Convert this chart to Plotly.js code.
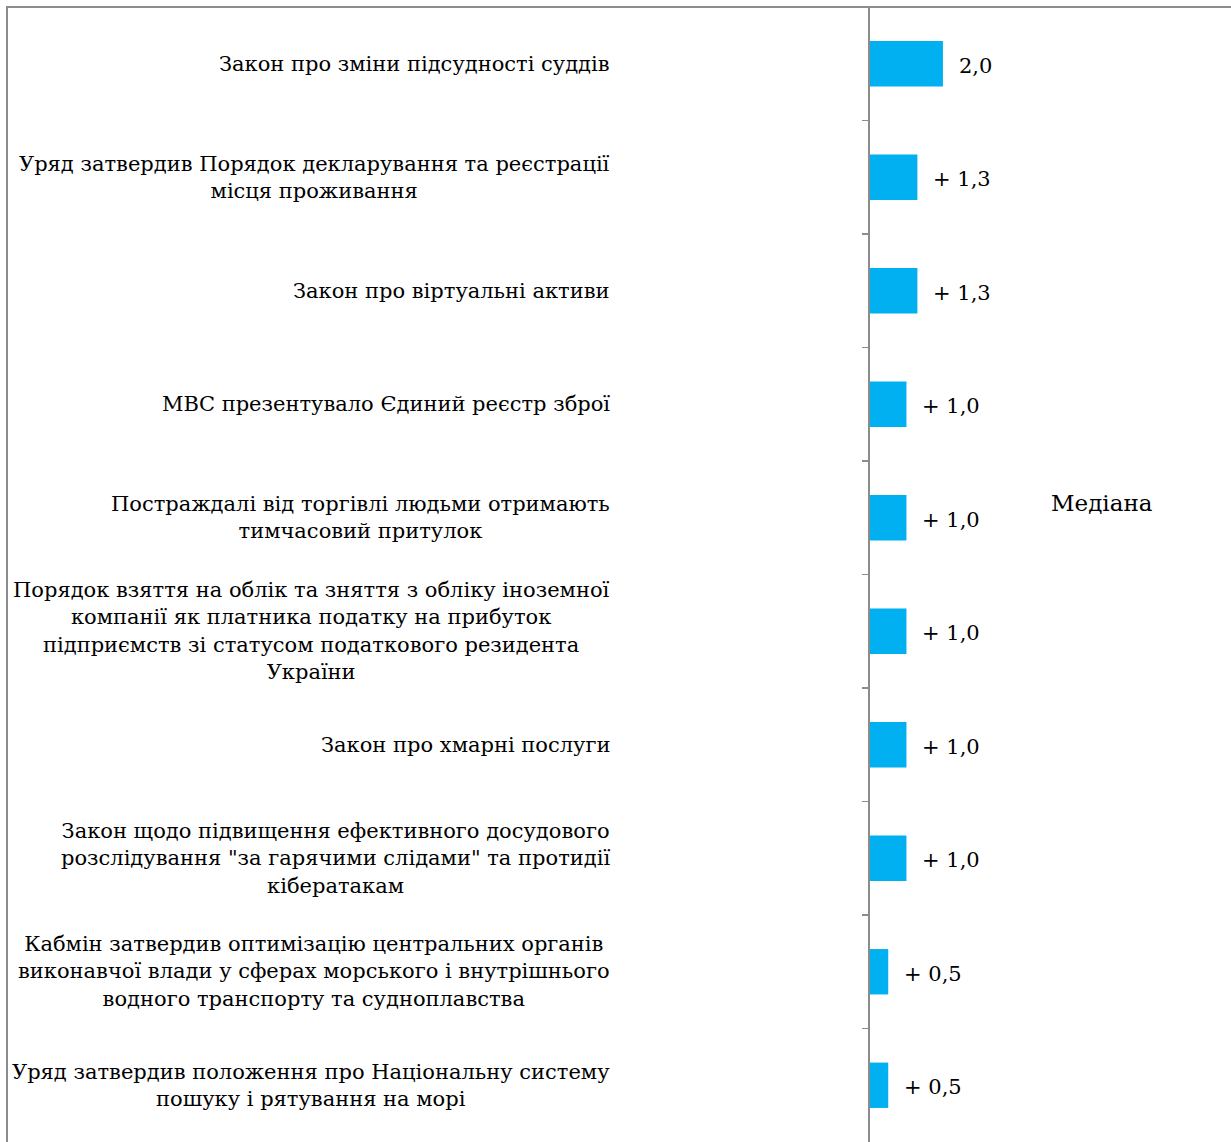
<!DOCTYPE html>
<html>
<head>
<meta charset="utf-8">
<script src="https://cdn.plot.ly/plotly-3.0.1.min.js"></script>
<style>
  html, body { margin: 0; padding: 0; background: #fff; overflow: hidden; }
  #chart { position: absolute; left: 0; top: 0; width: 1231px; height: 1142px; }
  #frame { position: absolute; left: 6px; top: 6px; width: 1400px; height: 1400px;
           border: 2px solid #8c8c8c; pointer-events: none; box-sizing: border-box; }
</style>
</head>
<body>
<div id="chart"></div>
<div id="frame"></div>
<script>
const categories = [
  "Закон про зміни підсудності суддів",
  "Уряд затвердив Порядок декларування та реєстрації<br>місця проживання",
  "Закон про віртуальні активи",
  "МВС презентувало Єдиний реєстр зброї",
  "Постраждалі від торгівлі людьми отримають<br>тимчасовий притулок",
  "Порядок взяття на облік та зняття з обліку іноземної<br>компанії як платника податку на прибуток<br>підприємств зі статусом податкового резидента<br>України",
  "Закон про хмарні послуги",
  "Закон щодо підвищення ефективного досудового<br>розслідування \"за гарячими слідами\" та протидії<br>кібератакам",
  "Кабмін затвердив оптимізацію центральних органів<br>виконавчої влади у сферах морського і внутрішнього<br>водного транспорту та судноплавства",
  "Уряд затвердив положення про Національну систему<br>пошуку і рятування на морі"
];
const values = [2.0, 1.3, 1.3, 1.0, 1.0, 1.0, 1.0, 1.0, 0.5, 0.5];
const valueLabels = ["2,0", "+ 1,3", "+ 1,3", "+ 1,0", "+ 1,0", "+ 1,0", "+ 1,0", "+ 1,0", "+ 0,5", "+ 0,5"];
const seriesName = "Медіана";

const FONT = "DejaVu Serif, Liberation Serif, serif";
const ids = categories.map((c, i) => "c" + i);

const trace = {
  type: "bar",
  orientation: "h",
  x: values,
  y: ids,
  width: 0.4,
  marker: { color: "#00B0F0" },
  name: seriesName,
  hoverinfo: "x+name",
  showlegend: false
};

const annotations = [];
categories.forEach((c, i) => {
  annotations.push({
    xref: "paper", yref: "y", x: 0, y: ids[i],
    xanchor: "right", yanchor: "middle", xshift: -258,
    align: "center", showarrow: false, text: c,
    font: { family: FONT, size: 21, color: "#000" }
  });
  annotations.push({
    xref: "x", yref: "y", x: values[i], y: ids[i],
    xanchor: "left", yanchor: "middle", xshift: 14, yshift: -2,
    showarrow: false, text: valueLabels[i],
    font: { family: FONT, size: 21, color: "#000" }
  });
});
annotations.push({
  xref: "paper", yref: "paper", x: 0.496, y: 0.563,
  xanchor: "left", yanchor: "middle", showarrow: false,
  text: seriesName, font: { family: FONT, size: 23, color: "#000" }
});

const layout = {
  width: 1231, height: 1142,
  margin: { l: 870, r: 0, t: 7, b: 0 },
  paper_bgcolor: "#fff", plot_bgcolor: "#fff",
  showlegend: false,
  xaxis: { range: [0, 9.9], visible: false, fixedrange: true },
  yaxis: {
    type: "category",
    categoryorder: "array", categoryarray: ids,
    autorange: "reversed",
    showticklabels: false,
    showline: true, linecolor: "#8c8c8c", linewidth: 2,
    ticks: "outside", ticklen: 6, tickcolor: "#8c8c8c", tickwidth: 1.5,
    tickson: "boundaries",
    showgrid: false, zeroline: false
  },
  annotations: annotations
};

Plotly.newPlot("chart", [trace], layout, { displayModeBar: false, staticPlot: true });
</script>
</body>
</html>
